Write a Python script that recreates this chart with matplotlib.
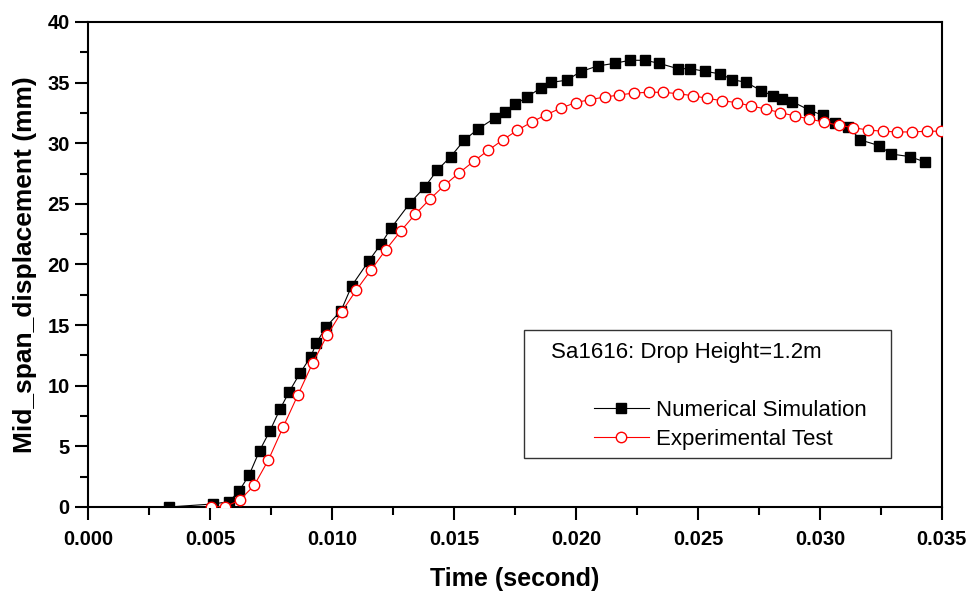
import numpy as np
import matplotlib
matplotlib.use("Agg")
import matplotlib.pyplot as plt
from matplotlib.patches import Rectangle
from matplotlib.ticker import MultipleLocator, FormatStrFormatter

plt.rcParams['font.family'] = ['Liberation Sans', 'DejaVu Sans']

# ---- data ----
sim_t = [0.00331, 0.00512, 0.00577, 0.00618, 0.00659, 0.00702, 0.00744, 0.00786,
         0.00822, 0.00868, 0.00912, 0.00934, 0.00975, 0.01036, 0.01080, 0.01150,
         0.01199, 0.01241, 0.01318, 0.01380, 0.01430, 0.01486, 0.01542, 0.01598,
         0.01667, 0.01708, 0.01751, 0.01800, 0.01856, 0.01898, 0.01962, 0.02018,
         0.02088, 0.02158, 0.02220, 0.02284, 0.02340, 0.02417, 0.02467, 0.02530,
         0.02592, 0.02641, 0.02696, 0.02760, 0.02809, 0.02844, 0.02886, 0.02956,
         0.03012, 0.03061, 0.03117, 0.03166, 0.03243, 0.03292, 0.03368, 0.03431]
sim_d = [0.0, 0.25, 0.44, 1.32, 2.64, 4.65, 6.27, 8.08,
         9.46, 11.05, 12.40, 13.50, 14.87, 16.19, 18.25, 20.30,
         21.67, 23.00, 25.05, 26.40, 27.77, 28.90, 30.27, 31.18,
         32.08, 32.55, 33.20, 33.84, 34.56, 35.02, 35.20, 35.90,
         36.37, 36.59, 36.84, 36.84, 36.59, 36.15, 36.15, 35.93,
         35.71, 35.24, 35.03, 34.33, 33.90, 33.67, 33.43, 32.74,
         32.30, 31.64, 31.37, 30.27, 29.80, 29.11, 28.90, 28.45]

exp_t = [0.00501, 0.00560, 0.00620, 0.00680, 0.00738, 0.00798, 0.00859, 0.00919,
         0.00979, 0.01039, 0.01099, 0.01159, 0.01219, 0.01280, 0.01340, 0.01400,
         0.01460, 0.01520, 0.01580, 0.01640, 0.01699, 0.01759, 0.01818, 0.01878,
         0.01938, 0.01998, 0.02058, 0.02117, 0.02177, 0.02237, 0.02297, 0.02357,
         0.02417, 0.02478, 0.02538, 0.02598, 0.02658, 0.02718, 0.02778, 0.02838,
         0.02897, 0.02957, 0.03017, 0.03077, 0.03137, 0.03197, 0.03257, 0.03318,
         0.03378, 0.03438, 0.03498]
exp_d = [0.0, 0.03, 0.55, 1.79, 3.88, 6.57, 9.24, 11.85,
         14.16, 16.11, 17.90, 19.55, 21.20, 22.74, 24.14, 25.38,
         26.53, 27.55, 28.51, 29.42, 30.27, 31.07, 31.75, 32.36,
         32.90, 33.35, 33.60, 33.81, 33.98, 34.14, 34.20, 34.20,
         34.09, 33.92, 33.70, 33.51, 33.35, 33.07, 32.82, 32.52,
         32.25, 32.00, 31.73, 31.48, 31.28, 31.09, 30.99, 30.93,
         30.93, 30.99, 30.99]

fig = plt.figure(figsize=(9.72, 5.94), dpi=100)
ax = fig.add_axes([0.091, 0.1465, 0.878, 0.8165])

ax.plot(sim_t, sim_d, color='black', lw=0.8, marker='s', ms=7,
        mfc='black', mec='black', label='Numerical Simulation', zorder=3)
ax.plot(exp_t, exp_d, color='red', lw=0.8, marker='o', ms=7.5,
        mfc='white', mec='red', mew=1.0, label='Experimental Test', zorder=4)

ax.set_xlim(0, 0.035)
ax.set_ylim(0, 40)
ax.xaxis.set_major_locator(MultipleLocator(0.005))
ax.xaxis.set_minor_locator(MultipleLocator(0.0025))
ax.yaxis.set_major_locator(MultipleLocator(5))
ax.yaxis.set_minor_locator(MultipleLocator(2.5))
ax.xaxis.set_major_formatter(FormatStrFormatter('%.3f'))

for s in ax.spines.values():
    s.set_linewidth(1.5)
ax.tick_params(which='both', direction='out', width=1.5, top=False, right=False)
ax.tick_params(which='major', length=9.5, labelsize=14.5)
ax.tick_params(axis='x', which='major', pad=7)
ax.tick_params(axis='y', which='major', pad=4)
ax.tick_params(which='minor', length=6)

for lab in ax.get_xticklabels() + ax.get_yticklabels():
    lab.set_fontweight('bold')

ax.set_xlabel('Time (second)', fontsize=18, fontweight='bold', labelpad=13)
ax.set_ylabel('Mid_span_displacement (mm)', fontsize=19, fontweight='bold', labelpad=7)

# legend box with heading
ax.add_patch(Rectangle((0.510, 0.101), 0.430, 0.264, transform=ax.transAxes,
                       fill=False, ec='#333333', lw=1.0, zorder=5))
ax.text(0.542, 0.318, 'Sa1616: Drop Height=1.2m', transform=ax.transAxes,
        fontsize=16, va='center', ha='left', zorder=6)
ax.legend(loc='center left', bbox_to_anchor=(0.592, 0.169), frameon=False,
          fontsize=16, handlelength=2.5, handletextpad=0.3, labelspacing=0.38,
          borderpad=0, borderaxespad=0)

fig.savefig('out.png', dpi=100)
